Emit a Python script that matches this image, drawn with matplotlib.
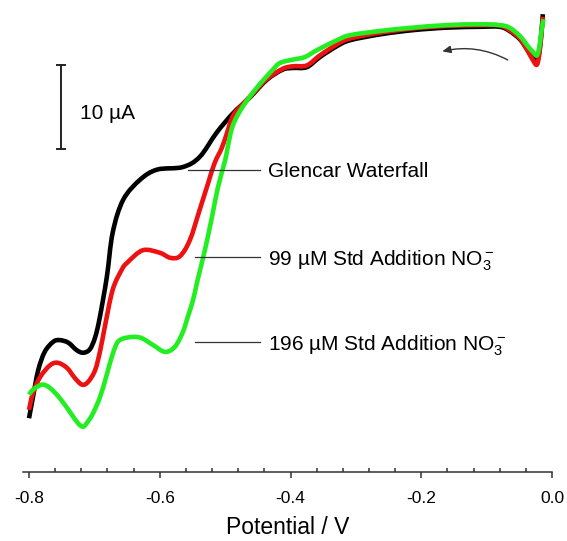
import matplotlib

matplotlib.use("Agg")
from matplotlib import pyplot as plt
from matplotlib.patches import FancyArrowPatch, PathPatch
from matplotlib.path import Path
from matplotlib.ticker import MultipleLocator

plt.rcParams["font.family"] = ["Liberation Sans", "DejaVu Sans"]
plt.rcParams["mathtext.fontset"] = "custom"
plt.rcParams["mathtext.rm"] = "Liberation Sans"
plt.rcParams["mathtext.it"] = "Liberation Sans:italic"

# Linear sweep voltammograms, potential in V, current in uA
glencar_v = [
    -0.800, -0.794, -0.786, -0.776, -0.763, -0.753, -0.740, -0.727, -0.717,
    -0.707, -0.699, -0.692, -0.681, -0.672, -0.656, -0.630, -0.604,
    -0.565, -0.539, -0.513, -0.488, -0.462, -0.436, -0.412, -0.396, -0.375,
    -0.355, -0.329, -0.309, -0.263, -0.213, -0.161, -0.110, -0.080, -0.065,
    -0.049, -0.037, -0.029, -0.023, -0.019, -0.016, -0.014,
]
glencar_i = [
    6.4, 8.9, 12.1, 14.3, 15.5, 15.7, 15.4, 14.5, 14.2,
    14.6, 16.0, 18.3, 23.2, 28.5, 32.4, 34.8, 36.0,
    36.3, 37.5, 40.4, 42.7, 44.6, 46.7, 47.9, 48.1, 48.2,
    49.4, 50.7, 51.4, 52.1, 52.6, 52.9, 53.0, 53.0, 52.5,
    51.5, 50.2, 49.3, 48.9, 50.3, 52.5, 54.5,
]

std99_v = [
    -0.800, -0.794, -0.783, -0.768, -0.756, -0.742, -0.730, -0.719, -0.710,
    -0.699, -0.691, -0.684, -0.672, -0.658, -0.650, -0.626, -0.600, -0.584,
    -0.569, -0.554, -0.539, -0.526, -0.516, -0.505, -0.497, -0.488, -0.473,
    -0.457, -0.436, -0.412, -0.396, -0.375, -0.355, -0.329, -0.309, -0.263,
    -0.213, -0.161, -0.110, -0.080, -0.065, -0.049, -0.037, -0.029, -0.023,
    -0.019, -0.016, -0.014,
]
std99_i = [
    7.4, 9.4, 11.3, 12.7, 13.0, 12.4, 11.2, 10.4, 10.7,
    12.1, 14.5, 17.3, 21.7, 24.1, 24.9, 26.4, 26.1, 25.5,
    25.7, 27.6, 31.2, 34.4, 36.8, 38.6, 40.4, 42.4, 43.8,
    45.1, 46.8, 48.0, 48.3, 48.4, 49.6, 50.9, 51.6, 52.3,
    52.8, 53.1, 53.2, 53.15, 52.6, 51.6, 50.1, 49.0, 48.5,
    50.0, 52.3, 54.2,
]

std196_v = [
    -0.800, -0.794, -0.780, -0.768, -0.753, -0.737, -0.725, -0.717, -0.710,
    -0.702, -0.691, -0.681, -0.673, -0.664, -0.650, -0.630, -0.610, -0.592,
    -0.577, -0.565, -0.557, -0.549, -0.542, -0.531, -0.520, -0.511, -0.500,
    -0.496, -0.488, -0.473, -0.451, -0.427, -0.416, -0.396, -0.378, -0.360,
    -0.329, -0.309, -0.263, -0.213, -0.161, -0.110, -0.080, -0.065, -0.049,
    -0.037, -0.029, -0.023, -0.019, -0.016, -0.013,
]
std196_i = [
    9.2, 9.8, 10.4, 10.0, 8.8, 7.1, 5.8, 5.4, 6.0,
    7.0, 9.0, 11.6, 13.8, 15.5, 16.0, 16.0, 15.1, 14.3,
    14.9, 16.6, 18.5, 20.5, 22.9, 26.4, 30.4, 33.9, 37.1,
    38.7, 41.3, 43.5, 45.8, 47.9, 48.7, 49.1, 49.4, 50.2,
    51.4, 52.0, 52.5, 52.9, 53.2, 53.3, 53.2, 52.9, 51.9,
    50.7, 50.0, 49.6, 50.8, 52.6, 53.9,
]

curve_labels = [
    "Glencar Waterfall",
    "99 µM Std Addition NO$_3^-$",
    "196 µM Std Addition NO$_3^-$",
]
# current level where each label's leader line sits
label_levels = [36.0, 25.6, 15.5]


def smooth_path(xs, ys) -> Path:
    # Catmull-Rom segments written out as cubic Bezier curves through every point
    pts = list(zip(xs, ys))
    verts = [pts[0]]
    codes = [Path.MOVETO]
    for k in range(len(pts) - 1):
        p0 = pts[max(k - 1, 0)]
        p1 = pts[k]
        p2 = pts[k + 1]
        p3 = pts[min(k + 2, len(pts) - 1)]
        c1 = (p1[0] + (p2[0] - p0[0]) / 6, p1[1] + (p2[1] - p0[1]) / 6)
        c2 = (p2[0] - (p3[0] - p1[0]) / 6, p2[1] - (p3[1] - p1[1]) / 6)
        verts += [c1, c2, p2]
        codes += [Path.CURVE4] * 3
    return Path(verts, codes)


def draw_curves(ax) -> None:
    series = [
        (glencar_v, glencar_i, "black"),
        (std99_v, std99_i, "#ee1111"),
        (std196_v, std196_i, "#22ee22"),
    ]
    for xs, ys, color in series:
        patch = PathPatch(smooth_path(xs, ys), fill=False, edgecolor=color,
                          lw=3.3, capstyle="butt", joinstyle="round")
        ax.add_patch(patch)


def draw_labels(ax) -> None:
    starts = [-0.557, -0.546, -0.546]
    for label, level, start in zip(curve_labels, label_levels, starts):
        ax.plot([start, -0.447], [level, level], color="#333333", lw=0.9)
        ax.text(-0.435, level, label, fontsize=15, va="center_baseline", ha="left")


def draw_scale_bar(ax) -> None:
    x = -0.751
    bottom, top = 38.5, 48.5
    ax.plot([x, x], [bottom, top], color="#222222", lw=1.4)
    for y in (bottom, top):
        ax.plot([x - 0.006, x + 0.006], [y, y], color="#222222", lw=1.4)
    ax.text(-0.722, 42.7, "10 µA", fontsize=15, va="center", ha="left")


def draw_sweep_arrow(ax) -> None:
    arrow = FancyArrowPatch(
        (-0.064, 48.9),
        (-0.172, 50.0),
        connectionstyle="arc3,rad=0.2",
        arrowstyle="-|>,head_length=5,head_width=2.2",
        color="#333333",
        lw=1.0,
    )
    ax.add_patch(arrow)


def decorate_axes(ax) -> None:
    ax.set_xlim(-0.8092, 0.0)
    ax.set_ylim(0, 55)
    for side in ("left", "right", "top"):
        ax.spines[side].set_visible(False)
    ax.spines["bottom"].set_linewidth(1.1)
    ax.spines["bottom"].set_color("#333333")
    ax.set_yticks([])
    ax.xaxis.set_major_locator(MultipleLocator(0.2))
    ax.xaxis.set_minor_locator(MultipleLocator(0.04))
    ax.set_xticks([-0.8, -0.6, -0.4, -0.2, 0.0])
    ax.set_xticklabels(["-0.8", "-0.6", "-0.4", "-0.2", "0.0"])
    ax.tick_params(axis="x", which="major", direction="out", length=4, width=1.1,
                   color="#333333", labelsize=12.5, pad=10)
    ax.tick_params(axis="x", which="minor", direction="in", length=3, width=1.1,
                   color="#333333")
    ax.set_xlabel("Potential / V", fontsize=16.5, labelpad=7)


def main() -> None:
    fig = plt.figure(figsize=(5.67, 5.41), dpi=100)
    ax = fig.add_axes([23 / 567, 69 / 541, 529 / 567, 462 / 541])

    draw_curves(ax)
    draw_labels(ax)
    draw_scale_bar(ax)
    draw_sweep_arrow(ax)
    decorate_axes(ax)

    fig.savefig("out.png", dpi=100)


if __name__ == "__main__":
    main()
